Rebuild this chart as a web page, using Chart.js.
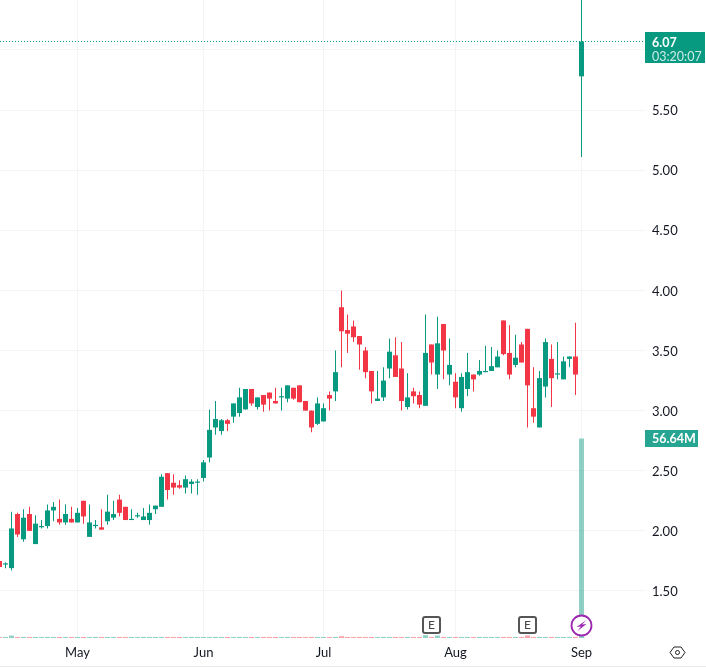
<!DOCTYPE html>
<html>
<head>
<meta charset="utf-8">
<title>Daily candles</title>
<script src="https://cdn.jsdelivr.net/npm/chart.js@4"></script>
<style>
  html, body { margin: 0; padding: 0; background: #fff; }
  #wrap { width: 706px; height: 669px; }
</style>
</head>
<body>
<div id="wrap"><canvas id="myChart" width="706" height="669"></canvas></div>
<script>
// One entry per trading day
const opens = [1.75,1.72,1.69,2.14,1.93,2.14,1.89,2.03,2.04,2.17,
  2.10,2.07,2.10,2.07,2.25,1.95,2.04,2.03,2.08,2.11,
  2.26,2.20,2.09,2.12,2.09,2.09,2.18,2.20,2.48,2.40,
  2.38,2.36,2.39,2.40,2.44,2.61,2.86,2.83,2.92,2.95,
  2.98,3.01,3.18,3.03,3.13,3.15,3.08,3.11,3.10,3.19,
  3.21,3.08,3.00,2.89,2.91,3.13,3.16,3.86,3.67,3.70,
  3.62,3.50,3.33,3.08,3.11,3.35,3.46,3.35,3.03,3.16,
  3.13,3.04,3.55,3.30,3.72,3.30,3.24,3.02,3.18,3.30,
  3.30,3.32,3.33,3.36,3.75,3.48,3.38,3.55,3.68,3.02,
  2.86,3.20,3.43,3.30,3.26,3.43,3.45,5.78];
const highs = [1.75,1.74,2.16,2.15,2.18,2.20,2.13,2.09,2.22,2.24,
  2.26,2.22,2.20,2.19,2.25,2.22,2.09,2.18,2.30,2.25,
  2.30,2.20,2.18,2.15,2.19,2.22,2.21,2.47,2.48,2.47,
  2.42,2.46,2.43,2.43,2.59,3.01,3.08,2.93,2.93,3.06,
  3.19,3.18,3.18,3.11,3.13,3.15,3.19,3.19,3.21,3.19,
  3.21,3.08,3.00,3.11,3.06,3.16,3.50,4.00,3.80,3.75,
  3.62,3.53,3.33,3.33,3.36,3.60,3.61,3.57,3.31,3.19,
  3.16,3.80,3.55,3.78,3.72,3.60,3.31,3.31,3.48,3.30,
  3.42,3.54,3.53,3.50,3.75,3.71,3.63,3.57,3.68,3.36,
  3.33,3.60,3.55,3.57,3.45,3.45,3.73,6.90];
const lows = [1.70,1.69,1.67,1.95,1.91,2.00,1.89,2.02,2.02,2.08,
  2.05,2.05,2.07,2.07,2.06,1.95,2.02,2.01,2.05,2.09,
  2.12,2.09,2.09,2.11,2.09,2.05,2.14,2.20,2.26,2.30,
  2.35,2.31,2.31,2.30,2.41,2.57,2.80,2.80,2.83,2.90,
  2.95,3.01,3.04,3.01,2.99,3.00,3.06,3.00,3.07,3.09,
  3.07,3.00,2.82,2.88,2.91,3.00,3.08,3.36,3.48,3.57,
  3.34,3.27,3.06,3.08,3.08,3.27,3.28,3.00,3.01,3.06,
  3.02,3.04,3.30,3.18,3.26,3.21,3.02,2.99,3.12,3.16,
  3.29,3.32,3.33,3.36,3.46,3.26,3.36,3.40,2.86,2.90,
  2.86,3.11,3.03,3.26,3.26,3.36,3.13,5.11];
const closes = [1.70,1.73,2.02,1.97,2.11,2.00,2.06,2.04,2.17,2.20,
  2.07,2.14,2.07,2.15,2.12,2.07,2.05,2.01,2.16,2.14,
  2.15,2.09,2.10,2.13,2.12,2.15,2.21,2.45,2.34,2.36,
  2.36,2.43,2.41,2.41,2.57,2.84,2.93,2.92,2.89,3.06,
  3.11,3.18,3.06,3.11,3.05,3.10,3.06,3.12,3.21,3.10,
  3.07,3.00,2.86,3.06,3.02,3.10,3.32,3.66,3.64,3.61,
  3.55,3.32,3.16,3.10,3.25,3.49,3.28,3.08,3.11,3.12,
  3.05,3.48,3.40,3.56,3.50,3.38,3.11,3.28,3.32,3.26,
  3.33,3.33,3.37,3.45,3.47,3.30,3.44,3.40,3.21,2.95,
  3.27,3.57,3.27,3.31,3.41,3.45,3.30,6.07];
// volume in millions
const volumes = [0.3,0.3,0.7,0.3,0.3,0.3,0.3,0.3,0.3,0.3,
  0.3,0.3,0.3,0.3,0.3,0.3,0.3,0.3,0.3,0.3,
  0.3,0.3,0.3,0.3,0.3,0.3,0.3,0.3,0.3,0.3,
  0.3,0.3,0.3,0.3,0.3,0.3,0.3,0.3,0.3,0.3,
  0.3,0.3,0.3,0.3,0.3,0.3,0.3,0.3,0.3,0.3,
  0.3,0.3,0.3,0.3,0.3,0.3,0.3,0.5,0.3,0.3,
  0.3,0.3,0.3,0.3,0.3,0.3,0.3,0.3,0.3,0.3,
  0.3,0.8,0.3,0.7,0.3,0.3,0.3,0.3,0.3,0.3,
  0.3,0.3,0.3,0.3,0.3,0.3,0.3,0.3,0.7,0.3,
  0.3,0.3,0.3,0.3,0.3,0.3,0.3,56.64];

const monthPositions = [13, 34, 54, 76, 97];
const monthLabels = ['May', 'Jun', 'Jul', 'Aug', 'Sep'];
const priceTicks = [1.5, 2, 2.5, 3, 3.5, 4, 4.5, 5, 5.5, 6];
const earningsDays = [72, 88];
const dividendDay = 97;
const lastPriceLabel = '6.07';
const countdownLabel = '03:20:07';
const lastVolumeLabel = '56.64M';

const UP = '#089981';
const DOWN = '#f23645';
const GRID = '#f3f4f5';
const FONT = 'Lato';
// one day is 6px on the 645px plot, candles land on half pixels
const xMin = 1 / 12;
const xMax = xMin + 107.5;

const isUp = closes.map((c, i) => c >= opens[i]);
const candleColors = isUp.map(u => u ? UP : DOWN);
const volumeColors = isUp.map(u => u ? 'rgba(8,153,129,0.45)' : 'rgba(242,54,69,0.45)');

// Everything that isn't a bar: price tags, event badges, the settings icon
const overlay = {
    id: 'overlay',
    afterDraw(chart) {
        const ctx = chart.ctx;
        const x = chart.scales.x;
        const y = chart.scales.y;
        const y2 = chart.scales.y2;
        const area = chart.chartArea;
        ctx.save();

        // last price tag
        const py = y.getPixelForValue(closes[closes.length - 1]);
        ctx.fillStyle = UP;
        ctx.fillRect(area.right, Math.round(py) - 9, 60, 31);
        ctx.textBaseline = 'middle';
        ctx.textAlign = 'left';
        ctx.font = 'bold 12.5px ' + FONT;
        ctx.fillStyle = '#fff';
        ctx.fillText(lastPriceLabel, area.right + 7, py + 1);
        ctx.font = '12.5px ' + FONT;
        ctx.fillStyle = 'rgba(255,255,255,0.8)';
        ctx.fillText(countdownLabel, area.right + 7, py + 15);

        // volume tag
        const vy = y2.getPixelForValue(volumes[volumes.length - 1]);
        ctx.fillStyle = '#26a592';
        ctx.fillRect(area.right, Math.round(vy) - 8, 53, 17);
        ctx.font = 'bold 12.5px ' + FONT;
        ctx.fillStyle = '#fff';
        ctx.fillText(lastVolumeLabel, area.right + 7, vy + 1);

        // earnings badges
        earningsDays.forEach(d => {
            const ex = x.getPixelForValue(d);
            ctx.beginPath();
            ctx.roundRect(ex - 8.5, area.bottom - 21, 17, 16, 2);
            ctx.fillStyle = '#fff';
            ctx.fill();
            ctx.lineWidth = 2;
            ctx.strokeStyle = '#555';
            ctx.stroke();
            ctx.fillStyle = '#444';
            ctx.textAlign = 'center';
            ctx.font = '12px ' + FONT;
            ctx.fillText('E', ex, area.bottom - 12.5);
        });

        // dividend / split badge
        const dx = x.getPixelForValue(dividendDay);
        const dy = area.bottom - 12.5;
        ctx.beginPath();
        ctx.arc(dx, dy, 10, 0, Math.PI * 2);
        ctx.fillStyle = '#fff';
        ctx.fill();
        ctx.lineWidth = 1.8;
        ctx.strokeStyle = '#9c27b0';
        ctx.stroke();
        ctx.beginPath();
        ctx.moveTo(dx + 5, dy - 5.5);
        ctx.lineTo(dx - 5, dy + 1.5);
        ctx.lineTo(dx - 0.5, dy + 1);
        ctx.lineTo(dx - 4, dy + 5.5);
        ctx.lineTo(dx + 5, dy - 1.5);
        ctx.lineTo(dx + 0.5, dy - 1);
        ctx.closePath();
        ctx.fillStyle = '#9c27b0';
        ctx.fill();

        // settings hexagon
        const hx = 677.5, hy = 652.5;
        ctx.beginPath();
        ctx.moveTo(hx - 7.5, hy);
        ctx.lineTo(hx - 3.5, hy - 5.5);
        ctx.lineTo(hx + 3.5, hy - 5.5);
        ctx.lineTo(hx + 7.5, hy);
        ctx.lineTo(hx + 3.5, hy + 5.5);
        ctx.lineTo(hx - 3.5, hy + 5.5);
        ctx.closePath();
        ctx.lineWidth = 1;
        ctx.strokeStyle = '#222';
        ctx.stroke();
        ctx.beginPath();
        ctx.arc(hx, hy, 2, 0, Math.PI * 2);
        ctx.stroke();

        // thin line closing the bottom of the widget
        ctx.fillStyle = '#e8e8e8';
        ctx.fillRect(0, 666, 706, 1);
        ctx.restore();
    }
};

const ctx = document.getElementById('myChart').getContext('2d');
const myChart = new Chart(ctx, {
    data: {
        datasets: [
            {
                type: 'line',
                data: [{ x: xMin, y: closes[closes.length - 1] }, { x: xMax, y: closes[closes.length - 1] }],
                borderColor: UP,
                borderWidth: 1,
                borderDash: [1, 2],
                pointRadius: 0,
                yAxisID: 'y',
                order: 0
            },
            {
                type: 'bar',
                data: opens.map((o, i) => ({ x: i, y: [o, closes[i]] })),
                backgroundColor: candleColors,
                barThickness: 5,
                inflateAmount: 0,
                grouped: false,
                yAxisID: 'y',
                order: 1
            },
            {
                type: 'bar',
                data: lows.map((l, i) => ({ x: i, y: [l, highs[i]] })),
                backgroundColor: candleColors,
                barThickness: 1,
                inflateAmount: 0,
                grouped: false,
                yAxisID: 'y',
                order: 2
            },
            {
                type: 'bar',
                data: volumes.map((v, i) => ({ x: i, y: v })),
                backgroundColor: volumeColors,
                barThickness: 5,
                inflateAmount: 0,
                grouped: false,
                yAxisID: 'y2',
                order: 3
            }
        ]
    },
    options: {
        responsive: false,
        animation: false,
        devicePixelRatio: 1,
        layout: { padding: 0 },
        plugins: { legend: { display: false }, tooltip: { enabled: false } },
        scales: {
            x: {
                type: 'linear',
                offset: false,
                min: xMin,
                max: xMax,
                afterBuildTicks: s => { s.ticks = monthPositions.map(v => ({ value: v })); },
                // no margins for the label overhang, the plot runs to the canvas edge
                afterFit: s => { s.height = 31; s.paddingLeft = 0; s.paddingRight = 0; },
                grid: { color: GRID, drawTicks: false, offset: false },
                border: { display: false },
                ticks: {
                    autoSkip: false,
                    maxRotation: 0,
                    padding: 7,
                    color: '#131722',
                    font: { family: FONT, size: 13 },
                    callback: v => monthLabels[monthPositions.indexOf(v)]
                }
            },
            y: {
                position: 'right',
                min: 1.109,
                max: 6.415,
                afterBuildTicks: s => { s.ticks = priceTicks.map(v => ({ value: v })); },
                afterFit: s => { s.width = 61; s.paddingTop = 0; s.paddingBottom = 0; },
                grid: { color: GRID, drawTicks: false },
                border: { display: false },
                ticks: {
                    padding: 7,
                    labelOffset: 1,
                    color: '#131722',
                    font: { family: FONT, size: 13 },
                    // the 6.00 label sits under the last price tag
                    callback: v => v === 6 ? '' : v.toFixed(2)
                }
            },
            y2: {
                display: false,
                min: 0,
                max: 181.1
            }
        }
    },
    plugins: [overlay]
});
</script>
</body>
</html>
